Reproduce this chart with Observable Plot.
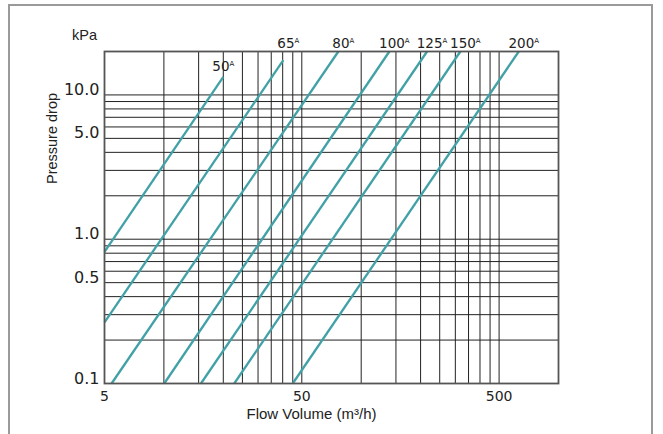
<!DOCTYPE html>
<html><head><meta charset="utf-8">
<script src="https://cdn.jsdelivr.net/npm/d3@7"></script>
<script src="https://cdn.jsdelivr.net/npm/@observablehq/plot@0.6"></script>
<style>
html,body{margin:0;padding:0;background:#fff;}
#wrap{position:relative;width:663px;height:434px;overflow:hidden;}
#border{position:absolute;left:8px;top:4px;width:641px;height:470px;border:2px solid #9a9a9a;border-bottom:none;}
#chart{position:absolute;left:0;top:0;}
</style></head><body>
<div id="wrap"><div id="border"></div><div id="chart"></div></div>
<script>
// Pipe sizes and the two ends of each pressure-drop line (flow m3/h, pressure kPa)
const sizes    = ["50A", "65A", "80A", "100A", "125A", "150A", "200A"];
const flowFrom = [5,     5,     5.43,  10.04,  15.41,  22.73,  44.97];
const dropFrom = [0.818, 0.265, 0.1,   0.1,    0.1,    0.1,    0.1];
const flowTo   = [20.0,  40.3,  76.6,  138.9,  215.7,  318.1,  629];
const dropTo   = [13.35, 17.4,  20,    20,     20,     20,     20];

// Axis ticks and grid values
const xTicks = [5, 50, 500];
const yTicks = [0.1, 0.5, 1, 5, 10];
const xGrid = [10, 15, 20, 25, 30, 35, 40, 45, 50, 100, 150, 200, 250, 300, 350, 400, 450, 500];
const yGrid = [0.2, 0.3, 0.4, 0.5, 0.6, 0.7, 0.8, 0.9, 1, 2, 3, 4, 5, 6, 7, 8, 9, 10];

const rows = sizes.map((s, i) => ({size: s, q0: flowFrom[i], p0: dropFrom[i], q1: flowTo[i], p1: dropTo[i]}));

const teal = "#41a1a6";
const titleFont = "Liberation Sans";

const plot = Plot.plot({
  width: 663, height: 434,
  marginLeft: 104, marginRight: 105, marginTop: 51, marginBottom: 51,
  style: {background: "transparent", fontFamily: "DejaVu Sans", color: "#222"},
  x: {type: "log", domain: [5, 1000], axis: null},
  y: {type: "log", domain: [0.1, 20], axis: null},
  marks: [
    Plot.ruleX(xGrid, {stroke: "#222", strokeWidth: 1}),
    Plot.ruleY(yGrid, {stroke: "#222", strokeWidth: 1}),
    Plot.link(rows, {x1: "q0", y1: "p0", x2: "q1", y2: "p1", stroke: teal, strokeWidth: 2.3}),
    Plot.frame({stroke: "#555", strokeWidth: 1.8}),
    // x tick labels
    Plot.text(xTicks, {x: d => d, text: d => String(d), frameAnchor: "bottom", lineAnchor: "top", dy: 8, fontSize: 14, fill: "#222"}),
    // y tick labels
    Plot.text(yTicks, {y: d => d, text: d => d3.format(".1f")(d), frameAnchor: "left", textAnchor: "end", lineAnchor: "middle", dx: -5, dy: -5, fontSize: 16, fill: "#222"}),
    // pipe size labels
    Plot.text(rows.filter(d => d.size !== "50A"), {x: "q1", frameAnchor: "top", text: "size", lineAnchor: "bottom", dy: -4, dx: 5, fontSize: 13.5, fill: "#222"}),
    Plot.text(rows.filter(d => d.size === "50A"), {x: "q1", y: "p1", text: "size", lineAnchor: "bottom", dy: -6, dx: 0, fontSize: 13.5, fill: "#222"}),
    // titles
    Plot.text(["kPa"], {text: d => d, frameAnchor: "top-left", dx: -20, dy: -12, lineAnchor: "bottom", textAnchor: "middle", fontSize: 14.5, fontFamily: titleFont, fill: "#222"}),
    Plot.text(["Pressure drop"], {text: d => d, frameAnchor: "top-left", dx: -52, dy: 87, rotate: -90, textAnchor: "middle", lineAnchor: "middle", fontSize: 14.5, fontFamily: titleFont, fill: "#222"}),
    Plot.text(["Flow Volume (m³/h)"], {text: d => d, frameAnchor: "bottom", dx: -20, dy: 35, lineAnchor: "bottom", textAnchor: "middle", fontSize: 15, fontFamily: titleFont, fill: "#222"})
  ]
});

// render the trailing "A" of pipe sizes as a small superscript
d3.select(plot).selectAll("text").each(function() {
  const t = this.textContent.trim();
  const m = t.match(/^(\d+)A$/);
  if (!m) return;
  this.textContent = m[1];
  d3.select(this).append("tspan").attr("font-size", 7).attr("dy", "-4.7").text("A");
});

document.getElementById("chart").appendChild(plot);
</script>
</body></html>
